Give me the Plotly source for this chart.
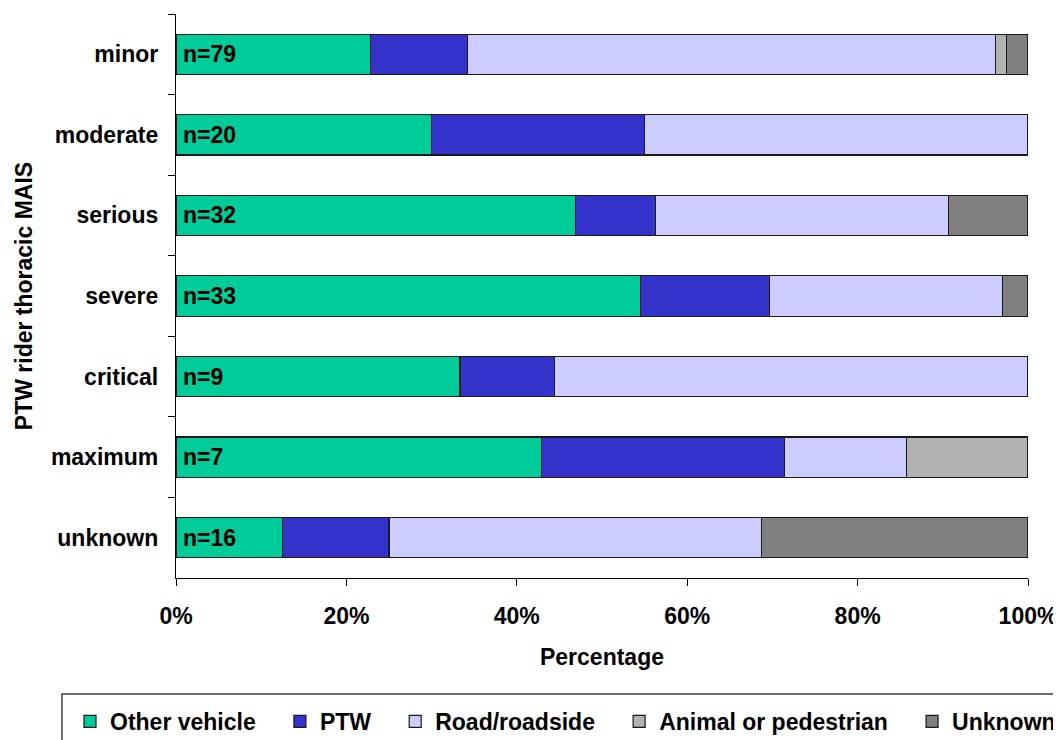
import plotly.graph_objects as go

# categories, top to bottom
levels = ['minor', 'moderate', 'serious', 'severe', 'critical', 'maximum', 'unknown']
n_cases = [79, 20, 32, 33, 9, 7, 16]

# counts per impact object
other_vehicle = [18, 6, 15, 18, 3, 3, 2]
ptw = [9, 5, 3, 5, 1, 2, 2]
road_roadside = [49, 9, 11, 9, 5, 1, 7]
animal_ped = [1, 0, 0, 0, 0, 1, 0]
unknown = [2, 0, 3, 1, 0, 0, 5]

series = [
    ('Other vehicle', other_vehicle, '#00CC99'),
    ('PTW', ptw, '#3333CC'),
    ('Road/roadside', road_roadside, '#CCCCFF'),
    ('Animal or pedestrian', animal_ped, '#B2B2B2'),
    ('Unknown', unknown, '#808080'),
]
# trailing gaps so legend entries sit like the original
name_pad = [3, 3, 3, 3, 0]

FONT = 'Liberation Sans'
FS = 23
bold = {'family': FONT, 'size': FS, 'color': 'black', 'weight': 'bold'}

# the page body adds an 8px offset, so the figure is a bit smaller
PAGE_OFF = 8
PLOT_L, PLOT_T, PLOT_W, PLOT_H = 176, 14, 852, 564

fig = go.Figure()

for (name, counts, color), pad in zip(series, name_pad):
    pct = [100.0 * c / n for c, n in zip(counts, n_cases)]
    fig.add_trace(go.Bar(
        y=levels, x=pct, orientation='h',
        name=name + '\u00a0' * pad,
        marker_color=color,
        marker_line={'color': '#1a1a1a', 'width': 1.2},
        hoverinfo='skip',
    ))

# n=.. labels at the start of each bar
for lvl, n in zip(levels, n_cases):
    fig.add_annotation(
        x=0, y=lvl, text='n={}'.format(n), showarrow=False,
        xanchor='left', xshift=5, font=bold,
    )

fig.update_xaxes(
    range=[0, 100], tickvals=[0, 20, 40, 60, 80, 100],
    ticktext=['0%', '20%', '40%', '60%', '80%', '100%'],
    showgrid=False, zeroline=False, automargin=False,
    showline=True, linecolor='black', linewidth=1.3,
    ticks='outside', ticklen=7, tickcolor='black', tickwidth=1.3,
    ticklabelstandoff=10, tickfont=bold,
    title={'text': 'Percentage', 'standoff': 21, 'font': bold},
)
fig.update_yaxes(
    type='category', categoryorder='array', categoryarray=levels,
    autorange='reversed', tickson='boundaries',
    showgrid=False, zeroline=False, automargin=False,
    showline=True, linecolor='black', linewidth=1.3,
    ticks='outside', ticklen=7, tickcolor='black', tickwidth=1.3,
    ticklabelstandoff=12, tickfont=bold,
    title={'text': 'PTW rider thoracic MAIS', 'standoff': 11, 'font': bold},
)

# legend frame, running off the right and bottom edges like the original
fig.add_shape(
    type='rect', xref='paper', yref='paper',
    x0=(62 - PLOT_L) / PLOT_W, x1=(1075 - PLOT_L) / PLOT_W,
    y0=(PLOT_T + PLOT_H - 760) / PLOT_H, y1=(PLOT_T + PLOT_H - 694) / PLOT_H,
    line={'color': '#404040', 'width': 1.5}, fillcolor='rgba(0,0,0,0)',
    layer='above',
)

fig.update_layout(
    barmode='stack', bargap=0.5,
    width=1061 - PAGE_OFF, height=740 - PAGE_OFF,
    margin={'l': PLOT_L - PAGE_OFF, 'r': 1061 - PLOT_L - PLOT_W,
            't': PLOT_T - PAGE_OFF, 'b': 740 - PLOT_T - PLOT_H,
            'autoexpand': False},
    plot_bgcolor='white', paper_bgcolor='white',
    font=bold,
    legend={
        'orientation': 'h',
        'x': (70 - PLOT_L) / PLOT_W, 'y': (PLOT_T + PLOT_H - 700) / PLOT_H,
        'xanchor': 'left', 'yanchor': 'top',
        'borderwidth': 0, 'bgcolor': 'rgba(0,0,0,0)',
        'itemwidth': 30, 'traceorder': 'normal', 'font': bold,
    },
)

fig.write_html('out.html')
